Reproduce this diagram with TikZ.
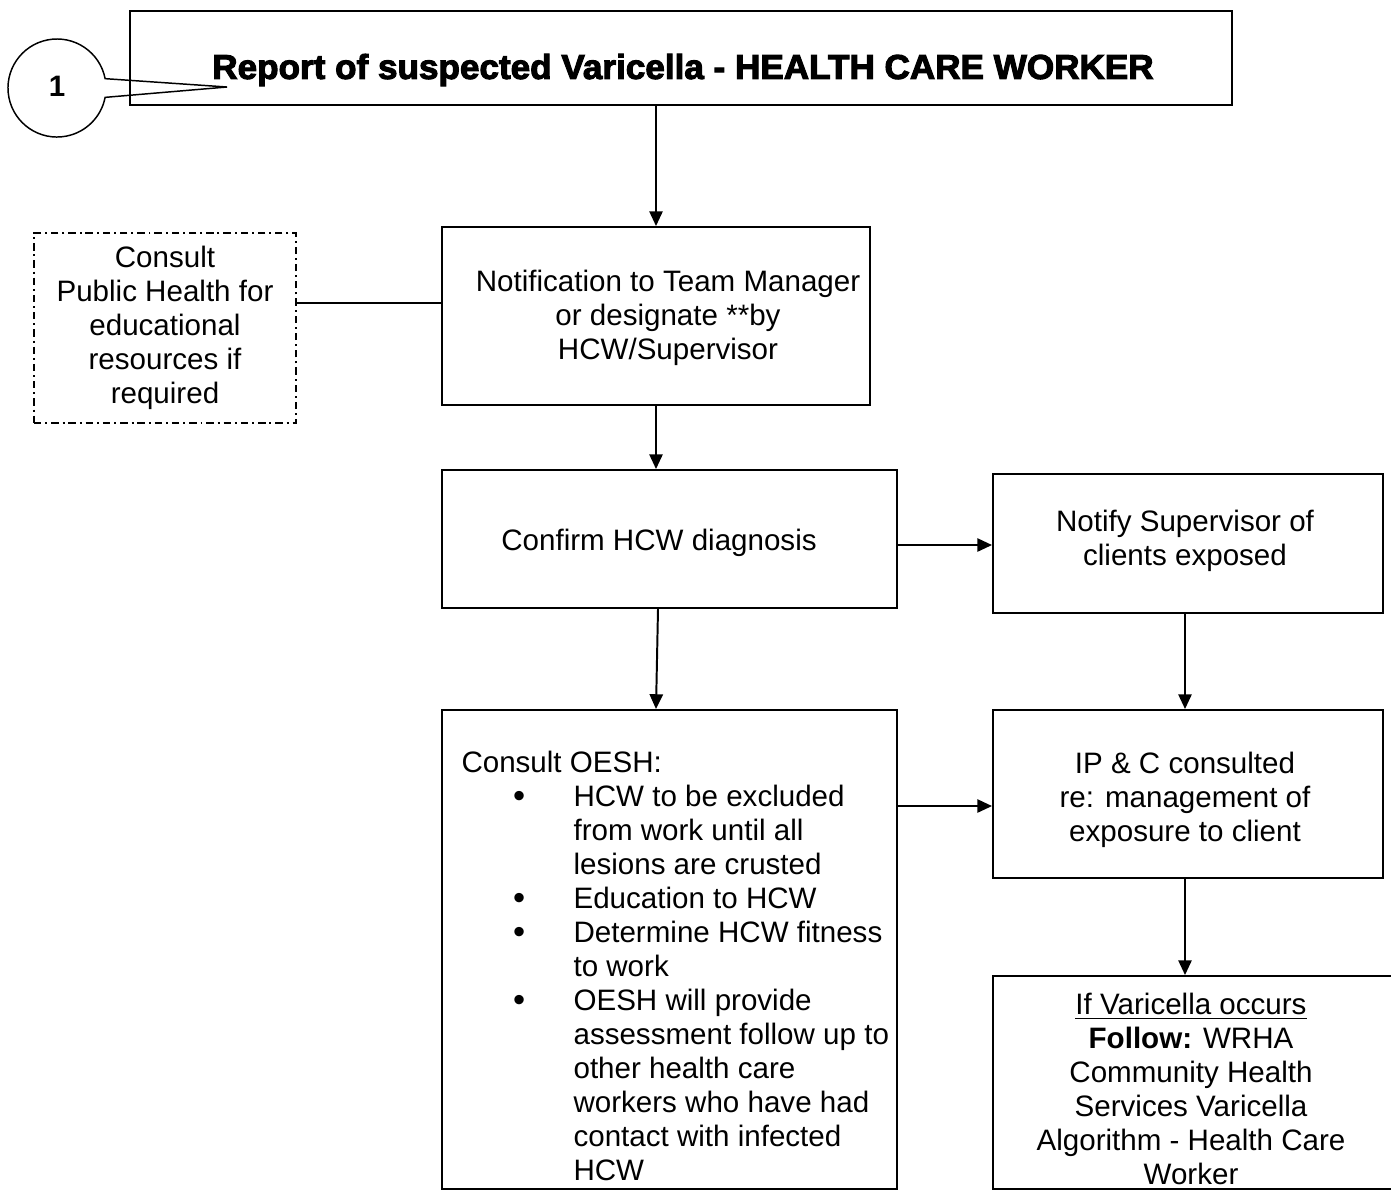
\documentclass[tikz,border=0pt]{standalone}
\usepackage{fontspec}
\usepackage{graphicx}
\setmainfont{Liberation Sans}
\newfontfamily\heavyfont{Liberation Sans}[BoldFeatures={FakeBold=3}]
\usetikzlibrary{arrows.meta,calc}
\newcommand\blt{\makebox[45.5pt][l]{\hspace{21pt}\raisebox{-0.3pt}{\fontsize{14}{13.8}\selectfont\textbullet}}}
\newcommand\nob{\makebox[45.5pt][l]{}}
\begin{document}
\begin{tikzpicture}[x=0.406pt,y=-0.406pt,
  font=\fontsize{12}{13.8}\selectfont,
  box/.style={draw,line width=0.8pt,inner sep=0pt},
  dbox/.style={draw,line width=0.6pt,inner sep=0pt,dash pattern=on 3pt off 1.6pt on 0.8pt off 1.6pt},
  txt/.style={align=center,inner sep=0pt},
  arr/.style={line width=0.8pt,-{Triangle[length=6pt,width=5.4pt]}},
  conn/.style={line width=0.8pt}]
\useasboundingbox (0,0) rectangle (1391,1191);
% boxes
\node[box,minimum width=1102*0.406pt,minimum height=94*0.406pt] (title) at (681,58) {};
\node[txt,font=\heavyfont\bfseries\fontsize{14}{16}\selectfont] (titletext) at (683,70) {\scalebox{1.018}[1]{Report of suspected Varicella - HEALTH CARE WORKER}};
\node[box,minimum width=428*0.406pt,minimum height=178*0.406pt] (notif) at (656,316) {};
\node[txt] (notiftext) at (668,318) {Notification to Team Manager\\or designate **by\\HCW/Supervisor};
\node[dbox,minimum width=262*0.406pt,minimum height=190*0.406pt] (consult) at (165,328) {};
\node[txt] (consulttext) at (165,328) {Consult\\Public Health for\\educational\\resources if\\required};
\node[box,minimum width=455*0.406pt,minimum height=138*0.406pt] (confirm) at (669.5,539) {};
\node[txt] (confirmtext) at (659,543) {Confirm HCW diagnosis};
\node[box,minimum width=390*0.406pt,minimum height=139*0.406pt] (notify) at (1188,543.5) {};
\node[txt] (notifytext) at (1185,541) {Notify Supervisor of\\clients exposed};
\node[box,minimum width=455*0.406pt,minimum height=479*0.406pt] (oesh) at (669.5,949.5) {};
\node[align=left,inner sep=0pt,anchor=north west] (oeshtext) at (461,751) {Consult OESH:\\
\blt HCW to be excluded\\
\nob from work until all\\
\nob lesions are crusted\\
\blt Education to HCW\\
\blt Determine HCW fitness\\
\nob to work\\
\blt OESH will provide\\
\nob assessment follow up to\\
\nob other health care\\
\nob workers who have had\\
\nob contact with infected\\
\nob HCW};
\node[box,minimum width=390*0.406pt,minimum height=168*0.406pt] (ipc) at (1188,794) {};
\node[txt] (ipctext) at (1185,800) {IP \& C consulted\\re: management of\\exposure to client};
\node[box,minimum width=400*0.406pt,minimum height=213*0.406pt] (final) at (1193,1082.5) {};
\node[txt] (finaltext) at (1191,1089) {\underline{If Varicella occurs}\\\textbf{Follow:} WRHA\\Community Health\\Services Varicella\\Algorithm - Health Care\\Worker};
% callout
\node[inner sep=0pt,font=\bfseries\fontsize{12}{13.8}\selectfont] (c1) at (57,86) {1};
\coordinate (c1c) at (57,88);
\coordinate (tip) at (227,87);
\draw[line width=0.6pt] ($(c1c)+(11:19.9pt)$) arc[start angle=11,end angle=349,radius=19.9pt] -- (tip) -- cycle;
% connectors
\draw[arr] (title.south -| notif.north) -- (notif.north);
\draw[arr] (notif.south) -- (notif.south |- confirm.north);
\draw[arr] ($(confirm.east)+(0,6)$) -- ($(notify.west |- confirm.east)+(0,6)$);
\draw[arr] ($(confirm.south)+(-11.5,0)$) -- ($(oesh.north)+(-13.5,0)$);
\draw[arr] ($(oesh.east)+(0,-143.5)$) -- ($(ipc.west |- oesh.east)+(0,-143.5)$);
\draw[arr] ($(notify.south)+(-3,0)$) -- ($(ipc.north)+(-3,0)$);
\draw[arr] ($(ipc.south)+(-3,0)$) -- ($(final.north -| ipc.south)+(-3,0)$);
\draw[conn] ($(consult.east)+(0,-25)$) -- ($(notif.west |- consult.east)+(0,-25)$);
\end{tikzpicture}
\end{document}
